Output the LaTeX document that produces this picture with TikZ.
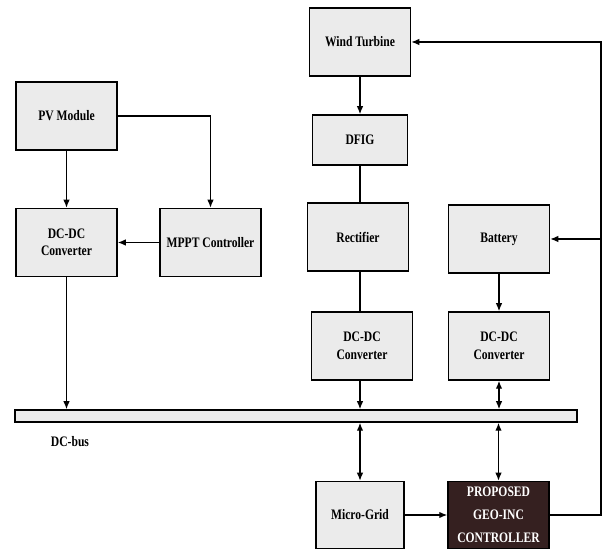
\documentclass[tikz,border=0pt]{standalone}
\usepackage{fontspec}
\setmainfont{Liberation Serif}[FakeStretch=0.8]
\usepackage{xcolor}
\usepackage{tikz}
\usetikzlibrary{calc,positioning,arrows,arrows.meta}
\definecolor{boxgray}{HTML}{EBEBEB}
\definecolor{ctrlbrown}{HTML}{352020}

\begin{document}
\begin{tikzpicture}[font=\fontsize{14.5}{17.5}\selectfont\bfseries,
  >={Latex[length=8pt,width=6.5pt]}, x=1pt, y=1pt,
  box/.style={draw, line width=1.5pt, fill=boxgray, align=center,
              minimum width=101pt, minimum height=68pt, inner sep=2pt},
  ctrl/.style={draw, line width=1.5pt, fill=ctrlbrown, text=white, align=center,
               minimum width=101pt, minimum height=67pt, inner sep=2pt,
               font=\fontsize{14.5}{23}\selectfont\bfseries},
  conn/.style={line width=1.3pt}]
\useasboundingbox (0,0) rectangle (603,-553);

% PV-Zweig
\node[box] (pv)   at (66.5,-116)   {PV Module};
\node[box] (dcl)  at (66.5,-242.5) {DC-DC\\Converter};
\node[box] (mppt) at (210.5,-242.5){MPPT Controller};

% Wind-Zweig
\node[box] (wind) at (360,-42)  {Wind Turbine};
\node[box, minimum width=95pt, minimum height=50pt] (dfig) at (360,-140) {DFIG};
\node[box] (rect) at (358,-237) {Rectifier};
\node[box] (dcm)  at (362,-346) {DC-DC\\Converter};

% Batterie-Zweig
\node[box] (bat)  at (499,-239) {Battery};
\node[box] (dcr)  at (499,-346) {DC-DC\\Converter};

% DC-Bus
\node[draw, line width=1.5pt, fill=boxgray, minimum width=562pt, minimum height=12pt,
      inner sep=0pt] (bus) at (296,-416) {};
\node (lbl) at (70,-442) {DC-bus};

% unten: Netz + Regler
\node[box, minimum width=88pt, minimum height=67pt] (mg) at (360,-515) {Micro-Grid};
\node[ctrl] (geo) at (498.5,-515) {PROPOSED\\GEO-INC\\CONTROLLER};
\coordinate (fb) at (601,-42);

\draw[conn,->] (pv) -- (dcl);
\draw[conn,->] (pv.east) -| (mppt.north);
\draw[conn,->] (mppt) -- (dcl);
\draw[conn,->] (dcl.south) -- (dcl.south |- bus.north);
\draw[conn,->] (wind) -- (wind |- dfig.north);
\draw[conn] (dfig.south) -- (dfig.south |- rect.north);
\draw[conn] (dfig.south |- rect.south) -- (dfig.south |- dcm.north);
\draw[conn,->] (dfig.south |- dcm.south) -- (dfig.south |- bus.north);
\draw[conn,->] (bat) -- (dcr);
\draw[conn,<->] (dcr.south) -- (dcr.south |- bus.north);
\draw[conn,<->] (dfig.south |- bus.south) -- (dfig.south |- mg.north);
\draw[conn,<->] (geo.north |- bus.south) -- (geo.north);
\draw[conn,->] (mg) -- (geo);
\draw[conn,->] (geo.east) -| (fb) -- (wind.east);
\draw[conn,->] (fb |- bat.east) -- (bat.east);
\end{tikzpicture}
\end{document}
